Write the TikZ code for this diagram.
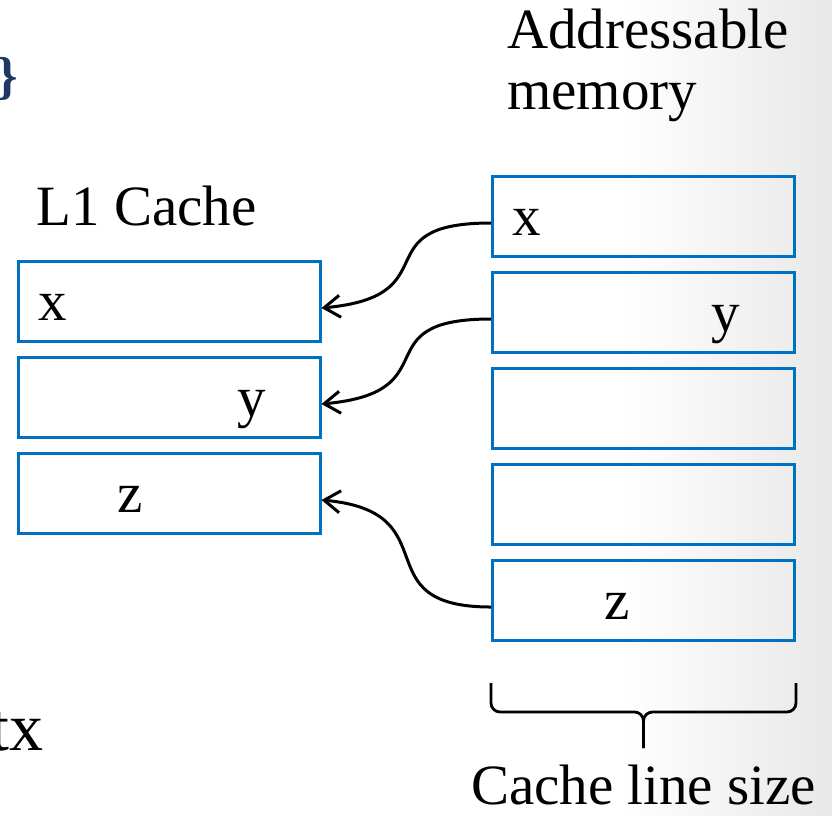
\documentclass[tikz,border=0pt]{standalone}
\usepackage{fontspec}
\setmainfont{Liberation Serif}
\usepackage{xcolor}
\usepackage{tikz}
\usetikzlibrary{arrows.meta,positioning}
\definecolor{cellblue}{RGB}{0,112,192}
\definecolor{slideblue}{RGB}{31,56,100}

\begin{document}
\begin{tikzpicture}[x=1pt, y=-1pt, node distance=13pt,
  every node/.style={font={\fontsize{57pt}{61pt}\selectfont}},
  cell/.style={draw=cellblue, line width=3pt, align=left, text width=262pt, inner xsep=20pt, minimum width=302pt, minimum height=80pt, text height=39pt, text depth=2pt},
  lbl/.style={inner sep=0pt, align=left},
  arrow/.style={-{Straight Barb[length=16pt, width=22pt]}, line width=3pt},
  brc/.style={line width=2.8pt, rounded corners=9pt}
]
\fill[white] (0,0) rectangle (832,815);
\shade[left color=white, right color=black!9] (620,0) rectangle (832,815);
\useasboundingbox (0,0) rectangle (832,815);

% L1 cache lines
\node[cell] (c1) at (169,301.5) {x};
\node[cell, below=of c1] (c2) {\hspace*{199pt}y};
\node[cell, below=of c2] (c3) {\hspace*{79pt}z};
\node[lbl, anchor=base west] (l1) at ([xshift=20pt, yshift=35pt]c1.north west) {L1 Cache};

% memory lines
\node[cell] (m1) at (643.5,216.5) {x};
\node[cell, below=of m1] (m2) {\hspace*{199pt}y};
\node[cell, below=of m2] (m3) {};
\node[cell, below=of m3] (m4) {};
\node[cell, below=of m4] (m5) {\hspace*{92pt}z};
\node[lbl, anchor=north west] (addr) at ([xshift=16pt, yshift=166pt]m1.north west) {Addressable\\memory};

\draw[arrow] ([yshift=-6.5pt]m1.west) .. controls +(-130,0) and +(130,-12) .. ([yshift=-6.5pt]c1.east);
\draw[arrow] ([yshift=-6.5pt]m2.west) .. controls +(-130,0) and +(130,-12) .. ([yshift=-6.5pt]c2.east);
\draw[arrow] ([yshift=-6.5pt]m5.west) .. controls +(-130,0) and +(130,12) .. ([yshift=-6.5pt]c3.east);

% brace under the memory lines
\coordinate (bl) at ([yshift=-41pt]m5.south west);
\coordinate (br) at ([yshift=-41pt]m5.south east);
\coordinate (tip) at ([yshift=-106pt]m5.south);
\draw[brc] (bl) -- ++(0,29) -| (tip);
\draw[brc] (br) -- ++(0,29) -| (tip);
\node[lbl, anchor=base] (size) at ([yshift=-56pt]tip) {Cache line size};

% cut-off text at the left edge
\node[lbl, anchor=east, text=slideblue, font={\fontsize{52pt}{60pt}\selectfont\bfseries}] (brk) at (18,79) {\}};
\node[lbl, anchor=base east, font={\fontsize{68pt}{80pt}\selectfont}] (ctx) at (44,750) {tx};
\end{tikzpicture}
\end{document}
